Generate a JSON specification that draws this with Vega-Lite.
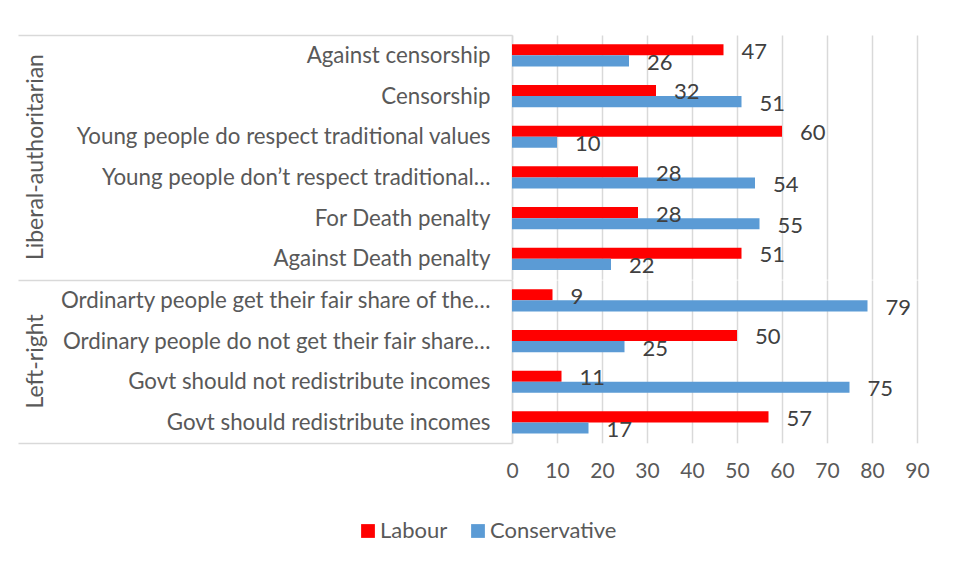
{
  "$schema": "https://vega.github.io/schema/vega-lite/v6.json",
  "padding": {"left": 17, "top": 24, "right": 5, "bottom": 5},
  "background": "white",
  "bounds": "flush",
  "data": {"values": [
    {"group": "Liberal-authoritarian", "item": "Against censorship", "party": "Labour", "value": 47},
    {"group": "Liberal-authoritarian", "item": "Against censorship", "party": "Conservative", "value": 26},
    {"group": "Liberal-authoritarian", "item": "Censorship", "party": "Labour", "value": 32},
    {"group": "Liberal-authoritarian", "item": "Censorship", "party": "Conservative", "value": 51},
    {"group": "Liberal-authoritarian", "item": "Young people do respect traditional values", "party": "Labour", "value": 60},
    {"group": "Liberal-authoritarian", "item": "Young people do respect traditional values", "party": "Conservative", "value": 10},
    {"group": "Liberal-authoritarian", "item": "Young people don’t respect traditional…", "party": "Labour", "value": 28},
    {"group": "Liberal-authoritarian", "item": "Young people don’t respect traditional…", "party": "Conservative", "value": 54},
    {"group": "Liberal-authoritarian", "item": "For Death penalty", "party": "Labour", "value": 28},
    {"group": "Liberal-authoritarian", "item": "For Death penalty", "party": "Conservative", "value": 55},
    {"group": "Liberal-authoritarian", "item": "Against Death penalty", "party": "Labour", "value": 51},
    {"group": "Liberal-authoritarian", "item": "Against Death penalty", "party": "Conservative", "value": 22},
    {"group": "Left-right", "item": "Ordinarty people get their fair share of the…", "party": "Labour", "value": 9},
    {"group": "Left-right", "item": "Ordinarty people get their fair share of the…", "party": "Conservative", "value": 79},
    {"group": "Left-right", "item": "Ordinary people do not get their fair share…", "party": "Labour", "value": 50},
    {"group": "Left-right", "item": "Ordinary people do not get their fair share…", "party": "Conservative", "value": 25},
    {"group": "Left-right", "item": "Govt should not redistribute incomes", "party": "Labour", "value": 11},
    {"group": "Left-right", "item": "Govt should not redistribute incomes", "party": "Conservative", "value": 75},
    {"group": "Left-right", "item": "Govt should redistribute incomes", "party": "Labour", "value": 57},
    {"group": "Left-right", "item": "Govt should redistribute incomes", "party": "Conservative", "value": 17}
  ]},
  "facet": {
    "row": {
      "field": "group", "type": "nominal",
      "sort": ["Liberal-authoritarian", "Left-right"],
      "header": {
        "title": null, "labelAngle": -90, "labelOrient": "left",
        "labelFont": "Lato", "labelFontSize": 23, "labelColor": "#595959",
        "labelPadding": 453
      }
    }
  },
  "spacing": {"row": 0, "column": 0},
  "resolve": {"scale": {"y": "independent", "yOffset": "independent"}},
  "spec": {
    "width": 405,
    "height": {"step": 40.7, "for": "position"},
    "encoding": {
      "y": {
        "field": "item", "type": "nominal", "sort": null,
        "scale": {"paddingInner": 0, "paddingOuter": 0},
        "axis": {
          "title": null, "labelFont": "Lato", "labelFontSize": 22.3, "labelColor": "#595959",
          "labelLimit": 600, "domainColor": "#d9d9d9", "domainWidth": 1.5,
          "tickBand": "extent", "tickSize": 494, "tickColor": "#d9d9d9", "tickWidth": 1.5,
          "tickOpacity": {"condition": {"test": "!(datum.index >= 0) || datum.value === 'Govt should redistribute incomes'", "value": 1}, "value": 0},
          "labelPadding": -472
        }
      },
      "yOffset": {"field": "party", "type": "nominal", "sort": ["Labour", "Conservative"], "scale": {"paddingInner": 0, "paddingOuter": 0.83}},
      "x": {
        "field": "value", "type": "quantitative",
        "scale": {"domain": [0, 90], "nice": false},
        "axis": {
          "title": null, "values": [0, 10, 20, 30, 40, 50, 60, 70, 80, 90],
          "labelFont": "Lato", "labelFontSize": 21, "labelColor": "#595959", "labelFlush": false,
          "labelPadding": 17, "ticks": false, "domain": false,
          "grid": true, "gridColor": "#d9d9d9", "gridWidth": 1.5
        }
      }
    },
    "layer": [
      {
        "mark": {"type": "bar"},
        "encoding": {
          "color": {
            "field": "party", "type": "nominal",
            "scale": {"domain": ["Labour", "Conservative"], "range": ["#FF0000", "#5B9BD5"]},
            "legend": {
              "title": null, "orient": "none", "direction": "horizontal",
              "legendX": -155, "legendY": 485,
              "symbolType": "square", "symbolSize": 190, "symbolStrokeWidth": 0,
              "labelFont": "Lato", "labelFontSize": 22, "labelColor": "#595959",
              "labelOffset": 1, "columnPadding": 19
            }
          }
        }
      },
      {
        "mark": {"type": "text", "align": "left", "baseline": "middle", "dx": 18, "dy": 2, "font": "Lato", "fontSize": 22, "color": "#404040"},
        "encoding": {"text": {"field": "value", "type": "quantitative"}}
      }
    ]
  },
  "config": {"view": {"stroke": null}, "facet": {"spacing": 0}}
}
